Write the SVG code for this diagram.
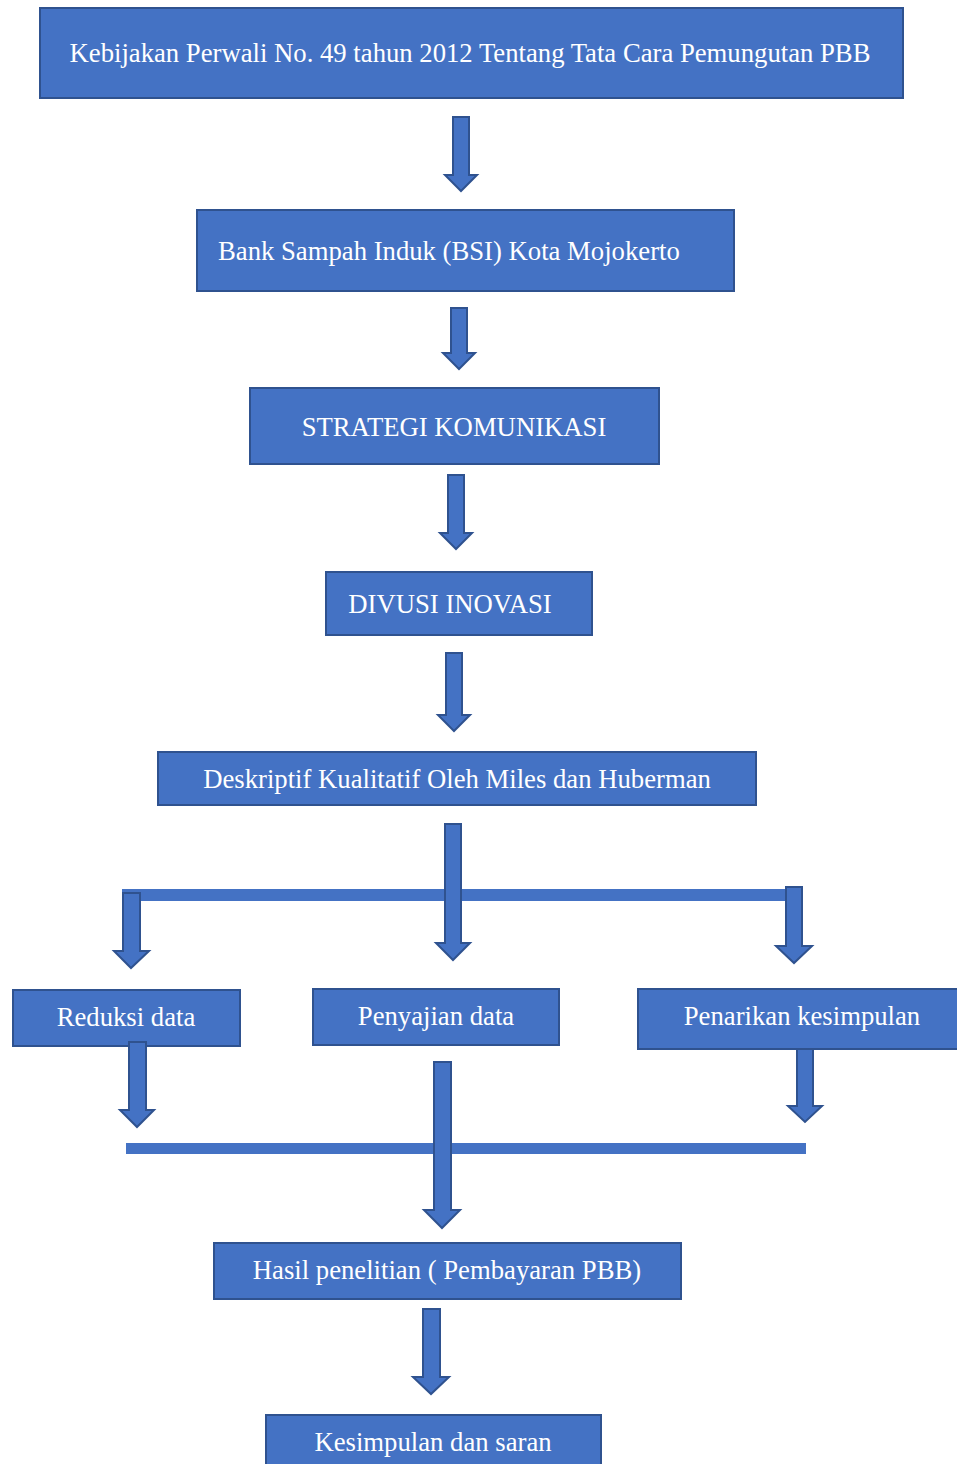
<svg xmlns="http://www.w3.org/2000/svg" width="957" height="1464" viewBox="0 0 957 1464">
<style>
.box{fill:#4472C4;stroke:#2F528F;stroke-width:2}
.t{font-family:"Liberation Serif","Times New Roman",serif;font-size:26.7px;fill:#FFFFFF}
.arr{fill:#4472C4;stroke:#2F528F;stroke-width:2;stroke-linejoin:miter}
.bar{fill:#4472C4}
</style>
<rect width="957" height="1464" fill="#FFFFFF"/>
<g id="n1"><rect class="box" x="40" y="8" width="863" height="90"/><text class="t" x="470" y="62" text-anchor="middle">Kebijakan Perwali No. 49 tahun 2012 Tentang Tata Cara Pemungutan PBB</text></g>
<g id="n2"><rect class="box" x="197" y="210" width="537" height="81"/><text class="t" x="218" y="260">Bank Sampah Induk (BSI) Kota Mojokerto</text></g>
<g id="n3"><rect class="box" x="250" y="388" width="409" height="76"/><text class="t" x="454" y="436" text-anchor="middle">STRATEGI KOMUNIKASI</text></g>
<g id="n4"><rect class="box" x="326" y="572" width="266" height="63"/><text class="t" x="450" y="613" text-anchor="middle">DIVUSI INOVASI</text></g>
<g id="n5"><rect class="box" x="158" y="752" width="598" height="53"/><text class="t" x="457" y="788" text-anchor="middle">Deskriptif Kualitatif Oleh Miles dan Huberman</text></g>
<g id="n6"><rect class="box" x="13" y="990" width="227" height="56"/><text class="t" x="126" y="1026" text-anchor="middle">Reduksi data</text></g>
<g id="n7"><rect class="box" x="313" y="989" width="246" height="56"/><text class="t" x="436" y="1025" text-anchor="middle">Penyajian data</text></g>
<g id="n8"><rect class="box" x="638" y="989" width="322" height="60"/><text class="t" x="802" y="1025" text-anchor="middle">Penarikan kesimpulan</text></g>
<g id="n9"><rect class="box" x="214" y="1243" width="467" height="56"/><text class="t" x="447" y="1279" text-anchor="middle">Hasil penelitian ( Pembayaran PBB)</text></g>
<g id="n10"><rect class="box" x="266" y="1415" width="335" height="60"/><text class="t" x="433" y="1451" text-anchor="middle">Kesimpulan dan saran</text></g>
<g id="connectors">
<rect class="bar" x="122" y="889" width="665" height="12"/>
<rect class="bar" x="126" y="1143" width="680" height="11"/>
<polygon class="arr" points="453,117 469,117 469,175 477,175 461,191 445,175 453,175"/>
<polygon class="arr" points="451,308 467,308 467,353 475,353 459,369 443,353 451,353"/>
<polygon class="arr" points="448,475 464,475 464,533 472,533 456,549 440,533 448,533"/>
<polygon class="arr" points="446,653 462,653 462,715 470,715 454,731 438,715 446,715"/>
<polygon class="arr" points="445,824 461,824 461,943 470,943 453,960 436,943 445,943"/>
<polygon class="arr" points="123,893 140,893 140,951 149,951 131,968 114,951 123,951"/>
<polygon class="arr" points="786,887 802,887 802,946 812,946 794,963 776,946 786,946"/>
<polygon class="arr" points="129,1042 146,1042 146,1110 154,1110 137,1127 120,1110 129,1110"/>
<polygon class="arr" points="434,1062 451,1062 451,1210 460,1210 442,1228 424,1210 434,1210"/>
<polygon class="arr" points="797,1049 813,1049 813,1106 822,1106 805,1122 788,1106 797,1106"/>
<polygon class="arr" points="423,1309 440,1309 440,1377 449,1377 431,1394 413,1377 423,1377"/>
</g>
</svg>
